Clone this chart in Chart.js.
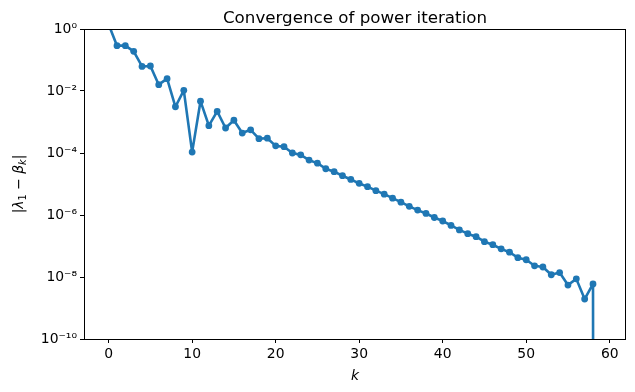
<!DOCTYPE html>
<html>
<head>
<meta charset="utf-8">
<script src="https://cdn.jsdelivr.net/npm/chart.js@4"></script>
<style>
  html, body { margin: 0; padding: 0; background: #fff; }
  #wrap { width: 635px; height: 392px; }
</style>
</head>
<body>
<div id="wrap"><canvas id="conv"></canvas></div>
<script>
// iteration index k
var iterations = [0, 1, 2, 3, 4, 5, 6, 7, 8, 9,
  10, 11, 12, 13, 14, 15, 16, 17, 18, 19,
  20, 21, 22, 23, 24, 25, 26, 27, 28, 29,
  30, 31, 32, 33, 34, 35, 36, 37, 38, 39,
  40, 41, 42, 43, 44, 45, 46, 47, 48, 49,
  50, 51, 52, 53, 54, 55, 56, 57, 58, 59];

// |lambda_1 - beta_k| (last one is exactly 0)
var errors = [1.4, 0.29, 0.29, 0.19, 0.062, 0.064, 0.016, 0.025, 0.0031, 0.0105,
  1.07e-4, 0.0047, 7.6e-4, 0.0022, 6.4e-4, 1.14e-3, 4.4e-4, 5.6e-4, 2.9e-4, 3.0e-4,
  1.7e-4, 1.6e-4, 1.0e-4, 8.7e-5, 5.9e-5, 4.7e-5, 3.1e-5, 2.5e-5, 1.85e-5, 1.4e-5,
  1.05e-5, 8.2e-6, 6.1e-6, 4.7e-6, 3.5e-6, 2.6e-6, 1.9e-6, 1.44e-6, 1.12e-6, 8.3e-7,
  6.4e-7, 4.6e-7, 3.3e-7, 2.5e-7, 2.0e-7, 1.38e-7, 1.1e-7, 8.1e-8, 6.3e-8, 4.2e-8,
  3.6e-8, 2.3e-8, 2.1e-8, 1.18e-8, 1.39e-8, 5.5e-9, 8.7e-9, 1.95e-9, 6.0e-9, 0];

var xTicks = [0, 10, 20, 30, 40, 50, 60];
var yTicks = [1e-10, 1e-8, 1e-6, 1e-4, 1e-2, 1];

var titleText = 'Convergence of power iteration';
var FONT = "'DejaVu Sans', sans-serif";
var BLUE = '#1f77b4';

var SUP = {'-': '\u207B', '0': '\u2070', '1': '\u00B9', '2': '\u00B2', '3': '\u00B3',
  '4': '\u2074', '5': '\u2075', '6': '\u2076', '7': '\u2077', '8': '\u2078', '9': '\u2079'};

function powerLabel(v) {
  var e = String(Math.round(Math.log10(v)));
  return '10' + e.split('').map(function(c) { return SUP[c]; }).join('');
}

// like matplotlib's nonpositive='clip': zero goes way below the axis
var points = iterations.map(function(k, i) {
  return { x: k, y: errors[i] > 0 ? errors[i] : 1e-300 };
});

// draws pieces of text (some italic, some subscript) centred on 0,0
function drawPieces(ctx, parts, size) {
  var widths = parts.map(function(p) {
    var s = p.sub ? size * 0.7 : size;
    ctx.font = (p.it ? 'italic ' : '') + s + 'px ' + FONT;
    return ctx.measureText(p.t).width;
  });
  var total = widths.reduce(function(a, b) { return a + b; }, 0);
  var x = -total / 2;
  ctx.textBaseline = 'alphabetic';
  ctx.textAlign = 'left';
  parts.forEach(function(p, i) {
    var s = p.sub ? size * 0.7 : size;
    ctx.font = (p.it ? 'italic ' : '') + s + 'px ' + FONT;
    ctx.fillText(p.t, x, size * 0.36 + (p.sub ? size * 0.22 : 0));
    x += widths[i];
  });
}

var decorations = {
  id: 'decorations',
  afterDatasetsDraw: function(chart) {
    var ctx = chart.ctx;
    var a = chart.chartArea;
    ctx.save();
    ctx.strokeStyle = '#000';
    ctx.lineWidth = 1;
    ctx.strokeRect(Math.round(a.left) + 0.5, Math.round(a.top) + 0.5,
      Math.round(a.right - a.left) - 1, Math.round(a.bottom - a.top));
    ctx.restore();
  },
  afterDraw: function(chart) {
    var ctx = chart.ctx;
    var a = chart.chartArea;
    var cx = (a.left + a.right) / 2;
    ctx.save();
    ctx.fillStyle = '#000';
    ctx.font = '16.7px ' + FONT;
    ctx.textAlign = 'center';
    ctx.textBaseline = 'alphabetic';
    ctx.fillText(titleText, cx, 23);

    // x axis label
    ctx.save();
    ctx.translate(cx, 375);
    drawPieces(ctx, [{ t: 'k', it: true }], 13.9);
    ctx.restore();

    // y axis label
    ctx.save();
    ctx.translate(18, (a.top + a.bottom) / 2);
    ctx.rotate(-Math.PI / 2);
    drawPieces(ctx, [
      { t: '|' }, { t: '\u03BB', it: true }, { t: '1', sub: true },
      { t: ' \u2212 ' }, { t: '\u03B2', it: true }, { t: 'k', it: true, sub: true },
      { t: '|' }
    ], 13.9);
    ctx.restore();
    ctx.restore();
  }
};

var ctx = document.getElementById('conv');
var chart = new Chart(ctx, {
  type: 'line',
  data: {
    datasets: [{
      data: points,
      borderColor: BLUE,
      backgroundColor: BLUE,
      borderWidth: 2.6,
      borderJoinStyle: 'round',
      borderCapStyle: 'butt',
      pointRadius: 3.4,
      pointBorderWidth: 0,
      pointBackgroundColor: BLUE,
      tension: 0,
      clip: 0
    }]
  },
  plugins: [decorations],
  options: {
    responsive: true,
    maintainAspectRatio: false,
    animation: false,
    layout: { padding: { top: 29, right: 9, left: 0, bottom: 0 } },
    plugins: {
      legend: { display: false },
      tooltip: { enabled: false },
      title: { display: false }
    },
    scales: {
      x: {
        type: 'linear',
        min: -2.95,
        max: 61.95,
        afterBuildTicks: function(scale) {
          scale.ticks = xTicks.map(function(v) { return { value: v }; });
        },
        afterFit: function(scale) { scale.height = 53; },
        grid: { display: true, drawOnChartArea: false, drawTicks: true, tickLength: 4, color: '#000', lineWidth: 1 },
        border: { display: false },
        ticks: {
          color: '#000',
          padding: 3,
          maxRotation: 0,
          font: { family: FONT, size: 13.9 },
          callback: function(v) { return String(v); }
        }
      },
      y: {
        type: 'logarithmic',
        min: 1e-10,
        max: 1,
        afterBuildTicks: function(scale) {
          scale.ticks = yTicks.map(function(v) { return { value: v }; });
        },
        afterFit: function(scale) { scale.width = 84; },
        grid: { display: true, drawOnChartArea: false, drawTicks: true, tickLength: 4, color: '#000', lineWidth: 1 },
        border: { display: false },
        ticks: {
          color: '#000',
          padding: 3,
          font: { family: FONT, size: 13.9 },
          callback: function(v) { return powerLabel(v); }
        }
      }
    }
  }
});
</script>
</body>
</html>
